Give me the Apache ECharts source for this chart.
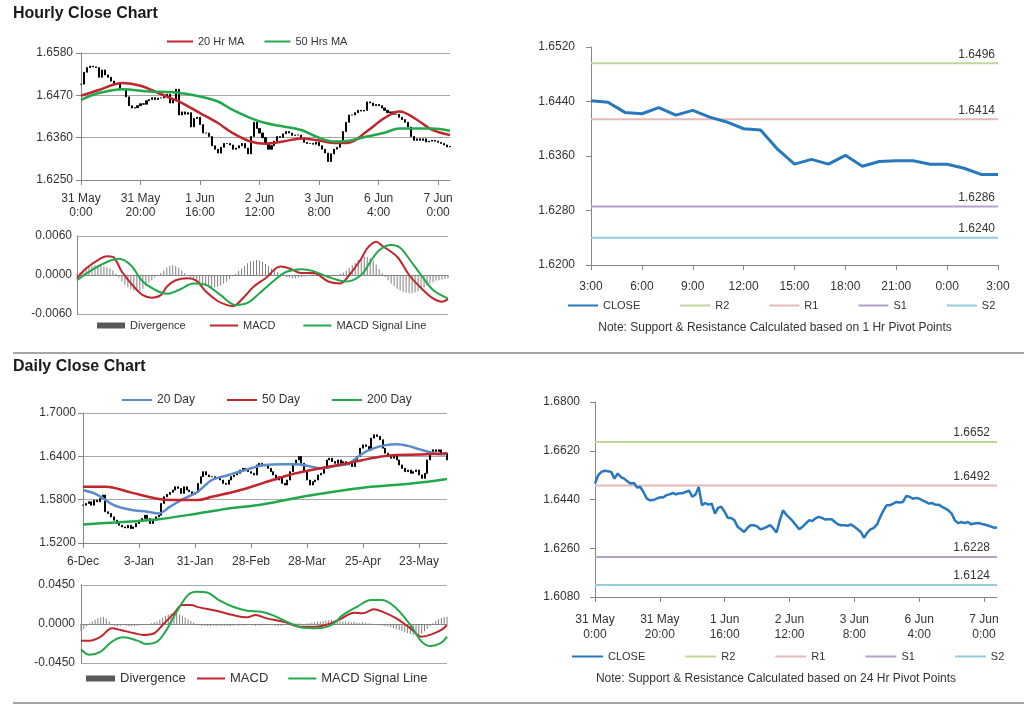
<!DOCTYPE html>
<html><head><meta charset="utf-8">
<script src="https://cdn.jsdelivr.net/npm/echarts@6/dist/echarts.min.js"></script>
<style>html,body{margin:0;padding:0;background:#fff}#c{width:1024px;height:706px}</style>
</head><body><div id="c"></div>
<script>
// ---------------- DATA ----------------
const hourlyTicks = ['31 May\n0:00','31 May\n20:00','1 Jun\n16:00','2 Jun\n12:00','3 Jun\n8:00','6 Jun\n4:00','7 Jun\n0:00'];
const hourlyClose = [
1.6499,1.6530,1.6542,1.6546,1.6544,1.6542,1.6517,1.6536,1.6523,1.6517,
1.6507,1.6499,1.6501,1.6484,1.6486,1.6466,1.6443,1.6437,1.6438,1.6443,
1.6448,1.6447,1.6456,1.6459,1.6464,1.6459,1.6463,1.6463,1.6468,1.6473,
1.6450,1.6458,1.6486,1.6419,1.6427,1.6421,1.6425,1.6388,1.6410,1.6413,
1.6394,1.6372,1.6372,1.6363,1.6339,1.6330,1.6320,1.6335,1.6345,1.6345,
1.6341,1.6330,1.6333,1.6339,1.6345,1.6333,1.6318,1.6363,1.6400,1.6384,
1.6372,1.6360,1.6345,1.6330,1.6339,1.6351,1.6363,1.6361,1.6370,1.6376,
1.6372,1.6366,1.6367,1.6367,1.6357,1.6348,1.6345,1.6345,1.6343,1.6348,
1.6339,1.6330,1.6320,1.6298,1.6318,1.6330,1.6335,1.6348,1.6376,1.6400,
1.6419,1.6419,1.6425,1.6431,1.6429,1.6431,1.6453,1.6450,1.6443,1.6446,
1.6443,1.6437,1.6431,1.6425,1.6427,1.6421,1.6421,1.6413,1.6407,1.6400,
1.6388,1.6363,1.6353,1.6357,1.6353,1.6357,1.6349,1.6351,1.6353,1.6351,
1.6348,1.6345,1.6341,1.6336,1.6337];
const ma20Hr = [[0,1.6469],[6,1.6484],[14,1.6502],[20,1.6495],[26,1.6476],[30,1.6463],[34,1.6450],[40,1.6424],[46,1.6398],[51,1.6372],[57,1.6350],[62,1.6344],[68,1.6350],[74,1.6358],[79,1.6354],[85,1.6346],[90,1.6347],[96,1.6376],[102,1.6411],[107,1.6428],[113,1.6406],[118,1.6380],[124,1.6367]];
const ma50Hr = [[0,1.6458],[6,1.6476],[14,1.6486],[23,1.6480],[31,1.6478],[40,1.6467],[46,1.6454],[51,1.6432],[57,1.6411],[62,1.6398],[68,1.6389],[74,1.6380],[79,1.6363],[85,1.6350],[90,1.6352],[96,1.6363],[102,1.6373],[107,1.6384],[113,1.6384],[118,1.6384],[124,1.6378]];
const hourlyMacd = [[0,-0.0005],[3,0.0010],[7,0.0023],[10,0.0029],[12,0.0028],[15,0.0005],[19,-0.0018],[22,-0.0031],[25,-0.0035],[28,-0.0031],[30,-0.0018],[33,-0.0008],[37,-0.0005],[40,-0.0009],[43,-0.0025],[47,-0.0040],[50,-0.0046],[52,-0.0048],[56,-0.0033],[59,-0.0018],[63,-0.0005],[68,0.0013],[71,0.0010],[75,0.0003],[79,0.0003],[84,-0.0010],[88,-0.0013],[91,0.0000],[95,0.0025],[97,0.0041],[100,0.0051],[102,0.0045],[107,0.0028],[111,0.0000],[115,-0.0020],[119,-0.0036],[122,-0.0041],[124,-0.0037]];
const hourlySignal = [[0,-0.0008],[5,0.0008],[10,0.0020],[14,0.0025],[18,0.0015],[22,-0.0010],[27,-0.0025],[30,-0.0029],[34,-0.0023],[39,-0.0013],[43,-0.0015],[48,-0.0031],[53,-0.0046],[57,-0.0043],[61,-0.0028],[66,-0.0008],[70,0.0005],[75,0.0009],[79,0.0006],[84,-0.0003],[90,-0.0010],[95,0.0000],[98,0.0020],[101,0.0038],[105,0.0046],[108,0.0042],[111,0.0025],[115,0.0000],[119,-0.0023],[124,-0.0036]];
const hourlyDivergence = [
0.0002,0.0004,0.0006,
0.0009,0.0012,0.0014,0.0015,0.0015,0.0014,0.0013,0.0012,0.0010,0.0007,
0.0002,-0.0004,-0.0010,-0.0015,-0.0019,-0.0022,-0.0024,-0.0025,-0.0024,-0.0021,-0.0017,-0.0012,-0.0008,-0.0004,-0.0001,
0.0003,0.0007,0.0011,0.0014,0.0015,0.0014,0.0011,0.0007,0.0003,0.0000,
-0.0004,-0.0007,-0.0010,-0.0013,-0.0015,-0.0017,-0.0018,-0.0019,-0.0019,-0.0018,-0.0016,-0.0013,-0.0010,-0.0006,-0.0002,
0.0002,0.0006,0.0010,0.0014,0.0018,0.0021,0.0022,0.0023,0.0022,0.0020,0.0017,0.0014,0.0010,0.0007,0.0004,0.0002,
-0.0001,-0.0003,-0.0004,-0.0005,-0.0005,-0.0004,-0.0003,-0.0002,0.0000,0.0001,0.0002,0.0002,0.0001,0.0000,-0.0001,-0.0002,-0.0002,-0.0001,0.0000,0.0002,0.0004,
0.0007,0.0011,0.0015,0.0019,0.0023,0.0026,0.0028,0.0028,0.0026,0.0022,0.0016,0.0009,0.0003,
-0.0003,-0.0008,-0.0013,-0.0017,-0.0021,-0.0024,-0.0026,-0.0027,-0.0028,-0.0028,-0.0027,-0.0025,-0.0022,-0.0019,-0.0016,-0.0013,-0.0011,-0.0009,-0.0008,-0.0007,-0.0006,-0.0005];

const last24Ticks = ['3:00','6:00','9:00','12:00','15:00','18:00','21:00','0:00','3:00'];
const last24Close = [1.6441,1.6439,1.6424,1.6422,1.6431,1.6420,1.6427,1.6417,1.6410,1.6400,1.6398,1.6370,1.6348,1.6355,1.6348,1.6361,1.6345,1.6352,1.6353,1.6353,1.6348,1.6348,1.6342,1.6333,1.6333];
const pivotNames = ['R2','R1','S1','S2'];
const pivots1Hr = [1.6496,1.6414,1.6286,1.6240];
const pivots24Hr = [1.6652,1.6492,1.6228,1.6124];

const dailyTicks = ['6-Dec','3-Jan','31-Jan','28-Feb','28-Mar','25-Apr','23-May'];
const dailyClose = [
1.5724,1.5748,1.5771,1.5724,1.5794,1.5771,1.5817,1.5864,1.5632,1.5609,
1.5562,1.5516,1.5469,1.5446,1.5423,1.5409,1.5446,1.5400,1.5423,1.5469,
1.5516,1.5539,1.5585,1.5539,1.5469,1.5516,1.5562,1.5585,1.5748,1.5840,
1.5873,1.5901,1.5933,1.5979,1.5956,1.5887,1.5979,1.5933,1.5910,1.5873,
1.5901,1.6026,1.6119,1.6188,1.6142,1.6119,1.6119,1.6095,1.6095,1.6072,
1.6026,1.6012,1.6072,1.6119,1.6142,1.6165,1.6211,1.6234,1.6211,1.6188,
1.6165,1.6142,1.6281,1.6304,1.6281,1.6267,1.6234,1.6188,1.6142,1.6072,
1.6119,1.6026,1.6003,1.6072,1.6188,1.6281,1.6350,1.6397,1.6304,1.6188,
1.6072,1.6003,1.6049,1.6072,1.6142,1.6165,1.6234,1.6350,1.6374,1.6327,
1.6304,1.6350,1.6304,1.6327,1.6281,1.6304,1.6258,1.6350,1.6397,1.6513,
1.6559,1.6536,1.6490,1.6652,1.6698,1.6675,1.6629,1.6513,1.6443,1.6397,
1.6374,1.6420,1.6350,1.6281,1.6234,1.6188,1.6211,1.6165,1.6188,1.6211,
1.6142,1.6095,1.6165,1.6350,1.6466,1.6490,1.6466,1.6490,1.6420,1.6443,
1.6350];
const ma20Day = [[0,1.5933],[5,1.5870],[11,1.5724],[17,1.5660],[23,1.5632],[27,1.5609],[31,1.5700],[35,1.5794],[41,1.5910],[46,1.6072],[52,1.6142],[58,1.6211],[65,1.6281],[71,1.6290],[76,1.6290],[80,1.6270],[85,1.6234],[90,1.6265],[95,1.6304],[100,1.6443],[104,1.6513],[108,1.6555],[112,1.6568],[116,1.6545],[120,1.6500],[124,1.6455],[127,1.6430],[130,1.6434]];
const ma50Day = [[0,1.5980],[8,1.5980],[17,1.5901],[26,1.5817],[32,1.5794],[41,1.5794],[46,1.5840],[55,1.5919],[64,1.6026],[70,1.6100],[76,1.6165],[82,1.6215],[88,1.6258],[94,1.6300],[100,1.6350],[106,1.6395],[112,1.6420],[121,1.6425],[130,1.6443]];
const ma200Day = [[0,1.5456],[11,1.5483],[27,1.5530],[41,1.5609],[52,1.5678],[64,1.5734],[82,1.5864],[100,1.5966],[118,1.6026],[130,1.6086]];
const dailyMacd = [[0,-0.0192],[3,-0.0192],[7,-0.0146],[11,-0.0050],[14,-0.0069],[19,-0.0107],[22,-0.0126],[26,-0.0107],[29,-0.0011],[33,0.0123],[36,0.0218],[39,0.0218],[42,0.0192],[48,0.0153],[54,0.0103],[59,0.0077],[62,0.0103],[66,0.0065],[72,0.0027],[78,-0.0031],[83,-0.0031],[87,-0.0011],[92,0.0054],[97,0.0130],[100,0.0123],[104,0.0169],[107,0.0142],[112,0.0065],[117,-0.0050],[121,-0.0146],[124,-0.0126],[128,-0.0069],[130,-0.0011]];
const dailySignal = [[0,-0.0291],[3,-0.0356],[7,-0.0318],[11,-0.0203],[15,-0.0153],[20,-0.0192],[23,-0.0230],[27,-0.0203],[30,-0.0088],[34,0.0142],[38,0.0333],[41,0.0372],[45,0.0360],[49,0.0276],[54,0.0199],[59,0.0153],[64,0.0142],[68,0.0103],[73,0.0027],[78,-0.0038],[84,-0.0050],[89,-0.0011],[93,0.0103],[98,0.0199],[103,0.0276],[107,0.0276],[112,0.0180],[117,-0.0011],[121,-0.0203],[124,-0.0253],[128,-0.0214],[130,-0.0146]];
const dailyDivergence = [
-0.0080,-0.0060,-0.0030,
0.0010,0.0030,0.0050,0.0065,0.0075,0.0080,0.0060,0.0030,
-0.0010,-0.0020,-0.0025,-0.0020,-0.0015,-0.0020,-0.0025,-0.0030,-0.0025,-0.0020,-0.0015,-0.0010,-0.0005,0.0000,0.0010,0.0020,0.0030,
0.0050,0.0070,0.0090,0.0110,0.0120,0.0125,0.0120,0.0110,0.0095,0.0075,0.0055,0.0035,0.0015,
-0.0010,-0.0015,-0.0020,-0.0020,-0.0025,-0.0025,-0.0020,-0.0025,-0.0020,-0.0025,
-0.0020,-0.0020,-0.0025,-0.0020,-0.0015,-0.0020,-0.0015,-0.0020,-0.0015,-0.0010,
-0.0015,-0.0020,-0.0015,-0.0020,-0.0015,-0.0015,-0.0010,-0.0015,-0.0020,-0.0025,
-0.0020,-0.0015,-0.0010,-0.0005,
0.0005,0.0010,0.0010,0.0005,0.0000,0.0005,0.0010,0.0015,0.0020,0.0025,0.0030,0.0035,0.0040,
0.0045,0.0050,0.0040,0.0035,0.0030,0.0025,0.0030,0.0025,0.0020,0.0025,0.0020,0.0015,0.0020,
0.0015,0.0010,0.0005,0.0000,-0.0010,-0.0015,-0.0020,-0.0025,-0.0030,-0.0040,
-0.0050,-0.0060,-0.0070,-0.0085,-0.0095,-0.0105,-0.0115,-0.0125,-0.0130,-0.0125,-0.0110,-0.0085,-0.0055,-0.0025,
0.0010,0.0035,0.0055,0.0070,0.0080,0.0085];

// ---------------- STYLE / HELPERS ----------------
const FONT = "'Liberation Sans', Arial, sans-serif";
const AX = '#868686', GRIDC = '#a6a6a6', TXT = '#333333';
const RED = '#c0262c', GREEN = '#22a84a', BLUE = '#5b8bc9', CLOSEC = '#2878bd', DIVC = '#7f7f7f';
const pivotColors = ['#c2d69a','#e6b9b8','#b3a2c7','#93cddd'];
const idx = n => Array.from({length:n}, (_, i) => String(i));
const ohlc = cl => cl.map((c, i) => { const o = i ? cl[i-1] : c; return [o, c, Math.min(o, c), Math.max(o, c)]; });
const fmt4 = v => (Math.abs(v) < 1e-9 ? 0 : v).toFixed(4);

function catAxis(gi, n, every, labels, margin, lh, showLabels) {
  return { type:'category', gridIndex:gi, data:idx(n), boundaryGap:false,
    axisLine:{show:true, lineStyle:{color:AX}},
    axisTick:{show:showLabels, interval:every-1, length:5, lineStyle:{color:AX}},
    axisLabel:{show:showLabels, interval:every-1, margin:margin, fontSize:12, lineHeight:lh, color:TXT, fontFamily:FONT,
      formatter:(v, i) => labels ? labels[Math.round(i/every)] : ''},
    splitLine:{show:false} };
}
function valAxis(gi, min, max, interval, margin, split, tick) {
  return { type:'value', gridIndex:gi, min:min, max:max, interval:interval,
    axisLine:{show:true, lineStyle:{color:AX}},
    axisTick:{show:tick, length:5, lineStyle:{color:AX}},
    axisLabel:{margin:margin, fontSize:12, color:TXT, fontFamily:FONT, formatter:fmt4},
    splitLine:{show:split, lineStyle:{color:GRIDC, width:1}} };
}
function lineS(name, data, color, w, xi, smooth) {
  return { name:name, type:'line', xAxisIndex:xi, yAxisIndex:xi, data:data, smooth:smooth,
    showSymbol:false, symbol:'none', lineStyle:{color:color, width:w}, itemStyle:{color:color}, silent:true, z:3 };
}
function barsS(data, xi) {
  return { name:'bars'+xi, type:'candlestick', xAxisIndex:xi, yAxisIndex:xi, data:ohlc(data), barWidth:1.6, silent:true,
    itemStyle:{color:'#000', color0:'#000', borderColor:'#000', borderColor0:'#000', borderWidth:1} };
}
function divS(data, xi) {
  return { name:'Divergence', type:'bar', xAxisIndex:xi, yAxisIndex:xi, data:data, barWidth:1, silent:true,
    itemStyle:{color:DIVC} };
}
function pivotS(name, value, color, xi, last, offX) {
  return { name:name, type:'line', xAxisIndex:xi, yAxisIndex:xi, symbol:'circle', symbolSize:0, showSymbol:true, silent:true,
    lineStyle:{color:color, width:2}, itemStyle:{color:color}, z:2,
    data:[[0, value], {value:[last, value], label:{show:true, position:'top', align:'right', distance:3, offset:[offX,0],
      fontSize:12, color:TXT, fontFamily:FONT, formatter:() => value.toFixed(4)}}] };
}
function legend(names, left, top, w, h, gap, fs, extra) {
  return Object.assign({ data:names, left:left, top:top, itemWidth:w, itemHeight:h, itemGap:gap, icon:'rect',
    selectedMode:false, padding:0, textStyle:{fontSize:fs, color:TXT, fontFamily:FONT} }, extra || {});
}

const nH = hourlyClose.length, nD = dailyClose.length, n24 = last24Close.length;

const series = [
  barsS(hourlyClose, 0),
  lineS('20 Hr MA', ma20Hr, RED, 2.5, 0, 0.35),
  lineS('50 Hrs MA', ma50Hr, GREEN, 2.5, 0, 0.35),
  divS(hourlyDivergence, 1),
  lineS('MACD', hourlyMacd, RED, 2, 1, 0.35),
  lineS('MACD Signal Line', hourlySignal, GREEN, 2, 1, 0.35),
  lineS('CLOSE', last24Close, CLOSEC, 3, 2, false),
  barsS(dailyClose, 3),
  lineS('20 Day', ma20Day, BLUE, 2.5, 3, 0.35),
  lineS('50 Day', ma50Day, RED, 2.5, 3, 0.35),
  lineS('200 Day', ma200Day, GREEN, 2.5, 3, 0.35),
  divS(dailyDivergence, 4),
  lineS('MACD', dailyMacd, RED, 2, 4, 0.35),
  lineS('MACD Signal Line', dailySignal, GREEN, 2, 4, 0.35),
  lineS('CLOSE', hourlyClose, CLOSEC, 2.5, 5, false)
];
pivotNames.forEach((p, k) => {
  series.push(pivotS(p, pivots1Hr[k], pivotColors[k], 2, n24-1, -3));
  series.push(pivotS(p, pivots24Hr[k], pivotColors[k], 5, nH-1, -7));
});

const option = {
  animation:false,
  backgroundColor:'#ffffff',
  textStyle:{fontFamily:FONT},
  grid:[
    {left:81, top:53, width:369, height:127},
    {left:77, top:236, width:371, height:78},
    {left:591, top:47, width:407, height:218},
    {left:83, top:413, width:364, height:130},
    {left:81, top:585, width:366, height:78},
    {left:595, top:402, width:402, height:195}
  ],
  xAxis:[
    catAxis(0, nH, 20, hourlyTicks, 12, 14, true),
    catAxis(1, nH, 20, null, 8, 14, false),
    catAxis(2, n24, 3, last24Ticks, 15, 14, true),
    catAxis(3, nD, 20, dailyTicks, 12, 14, true),
    catAxis(4, nD, 20, null, 8, 14, false),
    catAxis(5, nH, 20, hourlyTicks, 15, 15, true)
  ],
  yAxis:[
    valAxis(0, 1.625, 1.658, 0.011, 8, true, true),
    valAxis(1, -0.006, 0.006, 0.006, 5, true, false),
    valAxis(2, 1.620, 1.652, 0.008, 16, false, true),
    valAxis(3, 1.520, 1.700, 0.060, 7, true, true),
    valAxis(4, -0.045, 0.045, 0.045, 6, true, false),
    valAxis(5, 1.608, 1.680, 0.018, 15, false, true)
  ],
  legend:[
    legend(['20 Hr MA','50 Hrs MA'], 167, 36, 26, 2, 20, 11),
    legend(['Divergence'], 97, 320, 28, 6, 20, 11, {itemStyle:{color:'#595959'}}),
    legend(['MACD','MACD Signal Line'], 210, 320, 28, 2, 28, 11),
    legend(['CLOSE','R2','R1','S1','S2'], 568, 300, 30, 2, 40, 11),
    legend(['20 Day','50 Day','200 Day'], 122, 394, 30, 2, 32, 12),
    legend(['Divergence'], 86, 672, 29, 6, 20, 13, {itemStyle:{color:'#595959'}}),
    legend(['MACD','MACD Signal Line'], 197, 672, 28, 2, 20, 13),
    legend(['CLOSE','R2','R1','S1','S2'], 572, 651, 31, 2, 40, 11)
  ],
  graphic:[
    {type:'text', left:13, top:6, style:{text:'Hourly Close Chart', font:"bold 16px 'Liberation Sans', Arial, sans-serif", fill:'#1a1a1a'}},
    {type:'text', left:13, top:359, style:{text:'Daily Close Chart', font:"bold 16px 'Liberation Sans', Arial, sans-serif", fill:'#1a1a1a'}},
    {type:'rect', shape:{x:13, y:352, width:1011, height:2}, style:{fill:'#a6a6a6'}},
    {type:'rect', shape:{x:13, y:702, width:1011, height:2}, style:{fill:'#a6a6a6'}},
    {type:'text', x:775, y:328, style:{text:'Note: Support & Resistance Calculated based on 1 Hr Pivot Points', font:"12px 'Liberation Sans', Arial, sans-serif", fill:TXT, textAlign:'center', textVerticalAlign:'middle'}},
    {type:'text', x:776, y:679, style:{text:'Note: Support & Resistance Calculated based on 24 Hr Pivot Points', font:"12px 'Liberation Sans', Arial, sans-serif", fill:TXT, textAlign:'center', textVerticalAlign:'middle'}}
  ],
  series:series
};
const chart = echarts.init(document.getElementById('c'), null, {renderer:'canvas'});
chart.setOption(option);
</script></body></html>
